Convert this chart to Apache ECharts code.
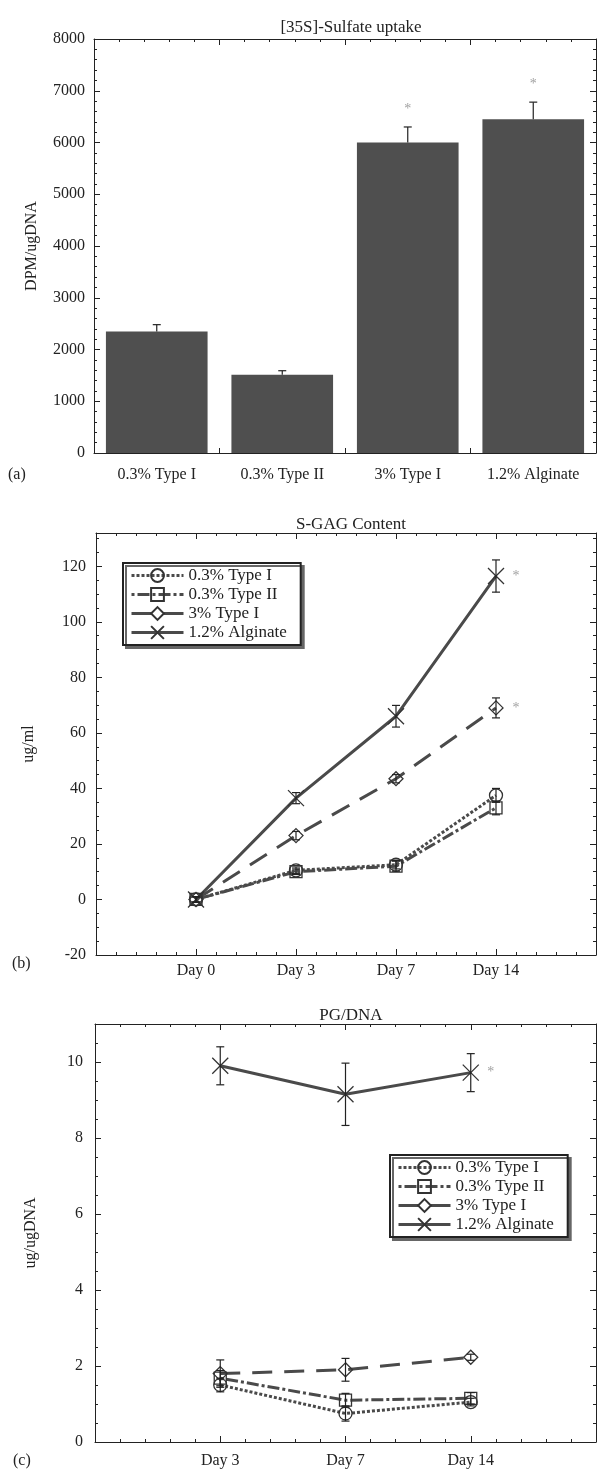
<!DOCTYPE html>
<html>
<head>
<meta charset="utf-8">
<script src="https://cdn.jsdelivr.net/npm/echarts@6/dist/echarts.min.js"></script>
<style>
  html, body { margin: 0; padding: 0; background: #fff; }
  #main { width: 597px; height: 1471px; }
</style>
</head>
<body>
<div id="main"></div>
<script>
// (a) [35S]-Sulfate uptake, DPM/ugDNA
var groups = ['0.3% Type I', '0.3% Type II', '3% Type I', '1.2% Alginate'];
var uptake = [2350, 1510, 6000, 6450];
var uptakeErr = [130, 80, 300, 330];
var uptakeStar = [false, false, true, true];

// (b) S-GAG content, ug/ml
var daysB = ['Day 0', 'Day 3', 'Day 7', 'Day 14'];
var gagType1 = [0, 10.5, 12.5, 37.5];
var gagType1Err = [1, 1.2, 1.5, 2.5];
var gagType2 = [0, 10, 12, 33];
var gagType2Err = [1, 1, 1.8, 2.5];
var gag3Type1 = [0, 23, 43.5, 69];
var gag3Type1Err = [1, 1.5, 1.5, 3.6];
var gagAlg = [0, 36.5, 66, 116.5];
var gagAlgErr = [1, 2, 3.9, 5.8];

// (c) PG/DNA, ug/ugDNA
var daysC = ['Day 3', 'Day 7', 'Day 14'];
var pgType1 = [1.5, 0.75, 1.05];
var pgType1Err = [0.18, 0.2, 0.1];
var pgType2 = [1.68, 1.1, 1.15];
var pgType2Err = [0.2, 0.18, 0.15];
var pg3Type1 = [1.8, 1.9, 2.23];
var pg3Type1Err = [0.36, 0.3, 0.08];
var pgAlg = [9.9, 9.15, 9.72];
var pgAlgErr = [0.5, 0.82, 0.5];

var FONT = "'Liberation Serif', 'DejaVu Serif', serif";
var INK = '#222';
var LINE = '#4a4a4a';

var looks = {
  '0.3% Type I': { symbol: 'circle', size: 13, dash: [3, 2] },
  '0.3% Type II': { symbol: 'rect', size: 12, dash: [3, 3, 12, 3] },
  '3% Type I': { symbol: 'diamond', size: 14, dash: [20, 12] },
  '1.2% Alginate': { symbol: 'path://M0,0L20,20M20,0L0,20', size: 16, dash: 'solid' }
};

var myChart = echarts.init(document.getElementById('main'));

// grid g: bottom x axis = 2g, top x axis = 2g+1, left y = 2g, right y = 2g+1
function lineSeries(name, values, g) {
  var lk = looks[name];
  return {
    name: name,
    type: 'line',
    xAxisIndex: 2 * g,
    yAxisIndex: 2 * g,
    data: values.map(function (v, i) { return [i + 1, v]; }),
    symbol: lk.symbol,
    symbolSize: lk.size,
    showAllSymbol: true,
    lineStyle: { color: LINE, width: 3, type: lk.dash },
    itemStyle: { color: 'rgba(0,0,0,0)', borderColor: '#333', borderWidth: 1.3 },
    z: 3
  };
}

function errSeries(values, errs, g, upOnly, xOf) {
  return {
    type: 'custom',
    xAxisIndex: 2 * g,
    yAxisIndex: 2 * g,
    silent: true,
    z: 4,
    data: values.map(function (v, i) { return [xOf(i), v, errs[i]]; }),
    renderItem: function (params, api) {
      var x = api.value(0), y = api.value(1), e = api.value(2);
      var hi = api.coord([x, y + e]);
      var lo = api.coord([x, upOnly ? y : y - e]);
      var w = 4;
      var st = { stroke: INK, lineWidth: 1.2 };
      var kids = [
        { type: 'line', shape: { x1: hi[0], y1: hi[1], x2: lo[0], y2: lo[1] }, style: st },
        { type: 'line', shape: { x1: hi[0] - w, y1: hi[1], x2: hi[0] + w, y2: hi[1] }, style: st }
      ];
      if (!upOnly) {
        kids.push({ type: 'line', shape: { x1: lo[0] - w, y1: lo[1], x2: lo[0] + w, y2: lo[1] }, style: st });
      }
      return { type: 'group', children: kids };
    }
  };
}

function starSeries(points, g, pos, dist) {
  return {
    type: 'scatter',
    xAxisIndex: 2 * g,
    yAxisIndex: 2 * g,
    silent: true,
    symbolSize: 1,
    itemStyle: { color: 'rgba(0,0,0,0)' },
    data: points,
    label: { show: true, formatter: '*', position: pos, distance: dist, color: '#888', fontSize: 14, fontFamily: FONT },
    z: 5
  };
}

function frameAxis(grid, pos, min, max, interval, minorSplit, extra) {
  var a = {
    type: 'value',
    gridIndex: grid,
    position: pos,
    min: min,
    max: max,
    interval: interval,
    splitLine: { show: false },
    axisLine: { show: true, onZero: false, lineStyle: { color: INK, width: 1 } },
    axisTick: { show: true, inside: true, length: 6, lineStyle: { color: INK } },
    minorTick: { show: true, splitNumber: minorSplit, length: 3, lineStyle: { color: INK } },
    axisLabel: { show: false }
  };
  for (var k in extra) a[k] = extra[k];
  return a;
}

function tickLabel(extra) {
  var l = { show: true, color: INK, fontFamily: FONT, fontSize: 16, formatter: function (v) { return String(v); } };
  for (var k in extra) l[k] = extra[k];
  return l;
}

function dayFormatter(labels) {
  return function (v) { return labels[v - 1] || ''; };
}

function axisName(text, gap) {
  return {
    name: text, nameLocation: 'middle', nameGap: gap, nameRotate: 90,
    nameTextStyle: { fontFamily: FONT, fontSize: 16, color: INK }
  };
}

function legendItems() {
  return groups.map(function (n) {
    return { name: n, lineStyle: { color: LINE, width: 3, type: looks[n].dash } };
  });
}

function legendBox(left, top) {
  return {
    data: legendItems(), orient: 'vertical', left: left, top: top,
    itemWidth: 52, itemHeight: 16, itemGap: 2, padding: [4, 14, 4, 7],
    backgroundColor: '#fff', borderColor: INK, borderWidth: 2, borderRadius: 0,
    shadowColor: '#666', shadowOffsetX: 3, shadowOffsetY: 3, shadowBlur: 0,
    textStyle: { fontFamily: FONT, fontSize: 17, color: INK }, selectedMode: false
  };
}

function merge(a, b) {
  for (var k in b) a[k] = b[k];
  return a;
}

var titleStyle = { fontFamily: FONT, fontSize: 17, fontWeight: 'normal', color: INK };

var option = {
  backgroundColor: '#fff',
  animation: false,
  textStyle: { fontFamily: FONT },
  title: [
    { text: '[35S]-Sulfate uptake', left: 346, top: 14, textAlign: 'center', textStyle: titleStyle },
    { text: 'S-GAG Content', left: 346, top: 511, textAlign: 'center', textStyle: titleStyle },
    { text: 'PG/DNA', left: 346, top: 1002, textAlign: 'center', textStyle: titleStyle }
  ],
  grid: [
    { left: 94, top: 39, width: 502, height: 414, containLabel: false, outerBoundsMode: 'none' },
    { left: 96, top: 533, width: 500, height: 422, containLabel: false, outerBoundsMode: 'none' },
    { left: 95, top: 1024, width: 501, height: 418, containLabel: false, outerBoundsMode: 'none' }
  ],
  legend: [legendBox(123, 563), legendBox(390, 1155)],
  xAxis: [
    {
      type: 'category', gridIndex: 0, position: 'bottom', data: groups,
      splitLine: { show: false },
      axisLine: { show: true, onZero: false, lineStyle: { color: INK, width: 1 } },
      axisTick: { show: true, inside: true, length: 5, alignWithLabel: false, lineStyle: { color: INK } },
      axisLabel: { show: true, color: INK, fontFamily: FONT, fontSize: 16, margin: 14, interval: 0 }
    },
    frameAxis(0, 'top', 0, 4, 1, 5, {}),
    frameAxis(1, 'bottom', 0, 5, 1, 5, { axisLabel: tickLabel({ margin: 8, formatter: dayFormatter(daysB) }) }),
    frameAxis(1, 'top', 0, 5, 1, 5, {}),
    frameAxis(2, 'bottom', 0, 4, 1, 5, { axisLabel: tickLabel({ margin: 11, formatter: dayFormatter(daysC) }) }),
    frameAxis(2, 'top', 0, 4, 1, 5, {})
  ],
  yAxis: [
    frameAxis(0, 'left', 0, 8000, 1000, 5, merge(axisName('DPM/ugDNA', 54), { axisLabel: tickLabel({ margin: 9 }) })),
    frameAxis(0, 'right', 0, 8000, 1000, 5, {}),
    frameAxis(1, 'left', -20, 132, 20, 4, merge(axisName('ug/ml', 59), { axisLabel: tickLabel({ margin: 10, showMaxLabel: false }) })),
    frameAxis(1, 'right', -20, 132, 20, 4, {}),
    frameAxis(2, 'left', 0, 11, 2, 4, merge(axisName('ug/ugDNA', 56), { axisLabel: tickLabel({ margin: 12, showMaxLabel: false }) })),
    frameAxis(2, 'right', 0, 11, 2, 4, {})
  ],
  graphic: [
    { type: 'text', left: 8, top: 467, style: { text: '(a)', font: '16px ' + FONT, fill: INK } },
    { type: 'text', left: 12, top: 956, style: { text: '(b)', font: '16px ' + FONT, fill: INK } },
    { type: 'text', left: 13, top: 1453, style: { text: '(c)', font: '16px ' + FONT, fill: INK } }
  ],
  series: [
    {
      type: 'bar', xAxisIndex: 0, yAxisIndex: 0, data: uptake,
      barCategoryGap: '19%', itemStyle: { color: '#4f4f4f' }, z: 2
    },
    errSeries(uptake, uptakeErr, 0, true, function (i) { return i; }),
    starSeries(uptake.map(function (v, i) { return uptakeStar[i] ? [i, v + uptakeErr[i]] : null; })
      .filter(function (p) { return p; }), 0, 'top', 10),

    lineSeries('0.3% Type I', gagType1, 1),
    lineSeries('0.3% Type II', gagType2, 1),
    lineSeries('3% Type I', gag3Type1, 1),
    lineSeries('1.2% Alginate', gagAlg, 1),
    errSeries(gagType1, gagType1Err, 1, false, function (i) { return i + 1; }),
    errSeries(gagType2, gagType2Err, 1, false, function (i) { return i + 1; }),
    errSeries(gag3Type1, gag3Type1Err, 1, false, function (i) { return i + 1; }),
    errSeries(gagAlg, gagAlgErr, 1, false, function (i) { return i + 1; }),
    starSeries([[4, gagAlg[3]], [4, gag3Type1[3]]], 1, 'right', 16),

    lineSeries('0.3% Type I', pgType1, 2),
    lineSeries('0.3% Type II', pgType2, 2),
    lineSeries('3% Type I', pg3Type1, 2),
    lineSeries('1.2% Alginate', pgAlg, 2),
    errSeries(pgType1, pgType1Err, 2, false, function (i) { return i + 1; }),
    errSeries(pgType2, pgType2Err, 2, false, function (i) { return i + 1; }),
    errSeries(pg3Type1, pg3Type1Err, 2, false, function (i) { return i + 1; }),
    errSeries(pgAlg, pgAlgErr, 2, false, function (i) { return i + 1; }),
    starSeries([[3, pgAlg[2]]], 2, 'right', 16)
  ]
};

myChart.setOption(option);
window.addEventListener('resize', function () {
  myChart.resize();
});
</script>
</body>
</html>
